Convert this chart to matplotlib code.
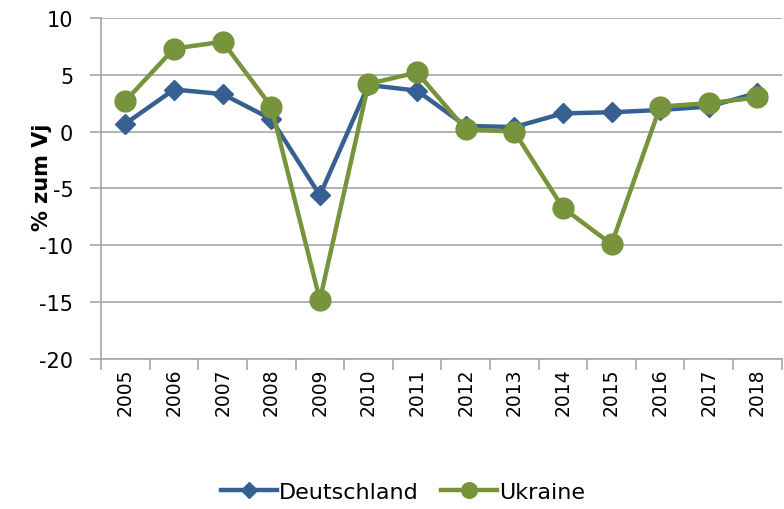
import numpy as np
import matplotlib.pyplot as plt
import matplotlib

matplotlib.rcParams['font.family'] = ['DejaVu Sans']
matplotlib.rcParams['axes.unicode_minus'] = False  # Bindestrich statt Minus

# Daten
jahre = ['2005', '2006', '2007', '2008', '2009', '2010', '2011',
         '2012', '2013', '2014', '2015', '2016', '2017', '2018']
deutschland = [0.7, 3.7, 3.3, 1.1, -5.6, 4.1, 3.6, 0.5, 0.4, 1.6, 1.7, 1.9, 2.2, 3.4]
ukraine = [2.7, 7.3, 7.9, 2.2, -14.8, 4.2, 5.2, 0.2, 0.0, -6.7, -9.9, 2.2, 2.5, 3.0]

blau = '#376092'
gruen = '#77933C'
grau = '#A6A6A6'

fig = plt.figure(figsize=(7.84, 5.10), dpi=100)
ax = fig.add_axes([0.129, 0.294, 0.868, 0.669])

x = np.arange(len(jahre))
ax.plot(x, deutschland, color=blau, linewidth=3.2, marker='D', markersize=10.5,
        label='Deutschland', zorder=3)
ax.plot(x, ukraine, color=gruen, linewidth=3.2, marker='o', markersize=15,
        label='Ukraine', zorder=4)

ax.set_xlim(-0.5, len(jahre) - 0.5)
ax.set_ylim(-20, 10)
ax.set_yticks(np.arange(-20, 11, 5))
ax.yaxis.grid(True, color=grau, linewidth=1.2)
ax.set_axisbelow(True)

# Kategorien-Ticks zwischen den Jahren
ax.set_xticks(x)
ax.set_xticklabels(jahre, rotation=90, fontsize=13.5)
ax.set_xticks(np.arange(-0.5, len(jahre), 1), minor=True)
ax.tick_params(axis='x', which='major', length=0, pad=6)
ax.tick_params(axis='x', which='minor', length=8, color=grau, width=1.2)
ax.tick_params(axis='y', length=8, color=grau, width=1.2, labelsize=15, pad=12)

for s in ['top', 'right']:
    ax.spines[s].set_visible(False)
for s in ['left', 'bottom']:
    ax.spines[s].set_color(grau)
    ax.spines[s].set_linewidth(1.2)

ax.set_ylabel('% zum Vj', fontsize=15, fontweight='bold')
ax.yaxis.set_label_coords(-0.072, 0.537)

fig.legend(loc='center', bbox_to_anchor=(0.514, 0.033), ncol=2, frameon=False,
           fontsize=16, handlelength=2.5, handletextpad=0.1, columnspacing=1.0,
           markerscale=0.75)

plt.savefig('out.png', dpi=100)
